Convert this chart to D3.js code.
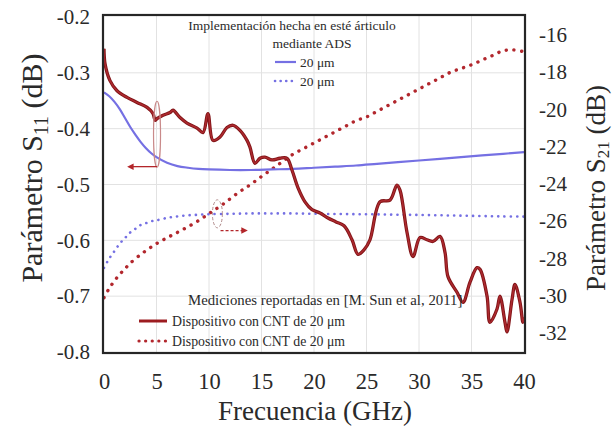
<!DOCTYPE html>
<html>
<head>
<meta charset="utf-8">
<script src="https://cdn.jsdelivr.net/npm/d3@7/dist/d3.min.js"></script>
<style>
  html, body { margin: 0; padding: 0; background: #fff; }
  svg { display: block; }
  text { font-family: "Liberation Serif", "DejaVu Serif", serif; fill: #2a2a2a; }
</style>
</head>
<body>
<svg id="chart" width="616" height="427"></svg>
<script>
// ---- data ----------------------------------------------------------------
// Frequency grid of the simulated (ADS) curves, GHz
const freqSim = [0, 0.5, 1, 1.5, 2, 2.5, 3, 3.5, 4, 4.5, 5, 6, 7, 8, 9, 10, 12, 14, 16, 18, 20, 22, 24, 26, 28, 30, 32, 34, 36, 38, 40];
// Simulated S11 (dB), left axis
const s11Sim = [-0.335, -0.342, -0.352, -0.365, -0.381, -0.397, -0.411, -0.424, -0.435, -0.444, -0.451, -0.461, -0.467, -0.470, -0.472, -0.473, -0.474, -0.474, -0.473, -0.472, -0.470, -0.468, -0.466, -0.463, -0.460, -0.457, -0.454, -0.451, -0.448, -0.445, -0.442];
// Simulated S21 (dB), right axis
const s21Sim = [-28.5, -28.0, -27.6, -27.2, -26.9, -26.6, -26.4, -26.2, -26.1, -26.0, -25.95, -25.82, -25.74, -25.68, -25.65, -25.62, -25.6, -25.58, -25.58, -25.58, -25.6, -25.61, -25.62, -25.63, -25.65, -25.66, -25.68, -25.7, -25.72, -25.74, -25.75];

// Measured S11 (dB), left axis
const freqS11Meas = [0, 0.1, 0.57, 1.24, 2.19, 3.14, 4.1, 4.67, 4.86, 5.05, 5.62, 6.29, 6.57, 7.24, 7.9, 8.86, 9.43, 9.9, 10.38, 11.05, 11.71, 12.29, 12.95, 13.62, 13.9, 14.38, 14.86, 15.33, 16.0, 16.76, 17.43, 17.9, 18.48, 19.14, 19.81, 20.57, 21.33, 22.1, 22.86, 23.62, 24.19, 24.76, 25.33, 26.29, 27.24, 27.9, 28.19, 28.86, 29.43, 30.1, 30.76, 31.33, 32.0, 32.48, 32.76, 33.62, 34.19, 34.86, 35.52, 35.81, 36.48, 36.76, 37.43, 37.71, 38.19, 38.38, 38.86, 39.14, 39.62, 39.9, 40];
const s11Meas = [-0.257, -0.284, -0.314, -0.332, -0.344, -0.353, -0.362, -0.373, -0.385, -0.382, -0.376, -0.371, -0.367, -0.38, -0.39, -0.399, -0.407, -0.373, -0.421, -0.415, -0.398, -0.394, -0.403, -0.421, -0.433, -0.462, -0.453, -0.451, -0.456, -0.453, -0.453, -0.474, -0.506, -0.531, -0.545, -0.551, -0.56, -0.567, -0.574, -0.599, -0.625, -0.617, -0.599, -0.531, -0.528, -0.501, -0.51, -0.586, -0.629, -0.595, -0.599, -0.602, -0.593, -0.622, -0.665, -0.693, -0.711, -0.675, -0.649, -0.652, -0.7, -0.747, -0.723, -0.7, -0.747, -0.764, -0.706, -0.679, -0.711, -0.747, -0.738];

// Measured S21 (dB), right axis
const freqS21Meas = [0, 0.5, 1, 1.5, 2, 2.5, 3.7, 5, 6.3, 7.5, 8.9, 10.1, 11.3, 12.7, 13.9, 15, 16, 17, 18, 19, 20, 21, 22, 23, 24, 25, 26, 27, 28, 29, 30, 31, 32, 33, 34, 35, 36, 37, 38, 39, 40];
const s21Meas = [-30.1, -29.6, -29.2, -28.85, -28.55, -28.25, -27.7, -27.2, -26.8, -26.45, -26.0, -25.55, -25.1, -24.5, -24.05, -23.6, -23.2, -22.8, -22.4, -22.1, -21.8, -21.5, -21.2, -20.9, -20.6, -20.4, -20.1, -19.8, -19.5, -19.2, -18.9, -18.6, -18.3, -18.0, -17.8, -17.6, -17.35, -17.1, -16.85, -16.8, -16.9];

// Axis ticks
const xTicks = [0, 5, 10, 15, 20, 25, 30, 35, 40];
const leftTicks = [-0.8, -0.7, -0.6, -0.5, -0.4, -0.3, -0.2];
const rightTicks = [-32, -30, -28, -26, -24, -22, -20, -18, -16];

// Legend texts
const legendSimTitle = ["Implementación hecha en esté árticulo", "mediante ADS"];
const legendSimLabels = ["20 \u03bcm", "20 \u03bcm"];
const legendMeasTitle = "Mediciones reportadas en [M. Sun et al, 2011]";
const legendMeasLabels = ["Dispositivo con CNT de 20 \u03bcm", "Dispositivo con CNT de 20 \u03bcm"];

// ---- layout --------------------------------------------------------------
const plot = { left: 103, right: 525, top: 15, bottom: 353 };
const colRed = "#9c1c20", colRedDark = "#811417", colBlue = "#7570e3";

const svg = d3.select("#chart");

const x = d3.scaleLinear().domain([0, 40]).range([104, 524]);
const yL = d3.scaleLinear().domain([-0.8, -0.2]).range([352, 17]);
const yR = d3.scaleLinear().domain([-32, -16]).range([333, 35]);

// grid
const grid = svg.append("g").attr("stroke", "#e2e2e2").attr("stroke-width", 1);
grid.selectAll("line.v").data(xTicks.slice(1, -1)).join("line")
  .attr("x1", d => x(d)).attr("x2", d => x(d))
  .attr("y1", plot.top).attr("y2", plot.bottom);
grid.selectAll("line.h").data(leftTicks.slice(1, -1)).join("line")
  .attr("x1", plot.left).attr("x2", plot.right)
  .attr("y1", d => yL(d)).attr("y2", d => yL(d));

// clip to plot box
svg.append("clipPath").attr("id", "clip").append("rect")
  .attr("x", plot.left).attr("y", plot.top)
  .attr("width", plot.right - plot.left).attr("height", plot.bottom - plot.top);
const g = svg.append("g").attr("clip-path", "url(#clip)");

const lineL = d3.line().x(d => x(d[0])).y(d => yL(d[1])).curve(d3.curveCatmullRom.alpha(0.5));
const lineR = d3.line().x(d => x(d[0])).y(d => yR(d[1])).curve(d3.curveCatmullRom.alpha(0.5));

// measured S21 (dotted red)
g.append("path").datum(d3.zip(freqS21Meas, s21Meas))
  .attr("d", lineR).attr("fill", "none")
  .attr("stroke", "#b2272d").attr("stroke-width", 3.4)
  .attr("stroke-linecap", "round").attr("stroke-dasharray", "0.1 7.6");

// simulated S21 (dotted blue)
g.append("path").datum(d3.zip(freqSim, s21Sim))
  .attr("d", lineR).attr("fill", "none")
  .attr("stroke", colBlue).attr("stroke-width", 2.6)
  .attr("stroke-linecap", "round").attr("stroke-dasharray", "0.1 6.2");

// simulated S11 (solid blue)
g.append("path").datum(d3.zip(freqSim, s11Sim))
  .attr("d", lineL).attr("fill", "none")
  .attr("stroke", colBlue).attr("stroke-width", 2.2);

// measured S11 (solid red, dark edge)
const measS11 = d3.zip(freqS11Meas, s11Meas);
g.append("path").datum(measS11).attr("d", lineL).attr("fill", "none")
  .attr("stroke", colRedDark).attr("stroke-width", 3.3).attr("stroke-linejoin", "round");
g.append("path").datum(measS11).attr("d", lineL).attr("fill", "none")
  .attr("stroke", "#ad2a2f").attr("stroke-width", 1.5).attr("stroke-linejoin", "round");

// annotations: axis pointers
const defs = svg.append("defs");
defs.append("marker").attr("id", "arrowL").attr("viewBox", "0 0 10 10")
  .attr("refX", 2).attr("refY", 5).attr("markerWidth", 5).attr("markerHeight", 5)
  .attr("orient", "auto-start-reverse")
  .append("path").attr("d", "M0,0 L10,5 L0,10 z").attr("fill", "#b3262a");

const ann = svg.append("g");
ann.append("ellipse")
  .attr("cx", x(5.05)).attr("cy", yL(-0.41)).attr("rx", 3.5).attr("ry", 33)
  .attr("fill", "none").attr("stroke", "#c98a8a").attr("stroke-width", 1.2);
ann.append("line")
  .attr("x1", x(5.05)).attr("x2", x(2.7)).attr("y1", yL(-0.468)).attr("y2", yL(-0.468))
  .attr("stroke", "#b3262a").attr("stroke-width", 1.3).attr("marker-end", "url(#arrowL)");

ann.append("ellipse")
  .attr("cx", x(10.8)).attr("cy", yR(-25.6)).attr("rx", 5).attr("ry", 14)
  .attr("fill", "none").attr("stroke", "#b08a8a").attr("stroke-width", 1)
  .attr("stroke-dasharray", "3 2");
ann.append("line")
  .attr("x1", x(11.1)).attr("x2", x(13.2)).attr("y1", yR(-26.5)).attr("y2", yR(-26.5))
  .attr("stroke", "#b3262a").attr("stroke-width", 1.3).attr("stroke-dasharray", "3 2")
  .attr("marker-end", "url(#arrowL)");

// frame
svg.append("rect").attr("x", plot.left).attr("y", plot.top)
  .attr("width", plot.right - plot.left).attr("height", plot.bottom - plot.top)
  .attr("fill", "none").attr("stroke", "#262626").attr("stroke-width", 2.2);

// axes (labels only, no tick marks)
const xAxis = svg.append("g").attr("transform", `translate(0,${plot.bottom})`)
  .call(d3.axisBottom(x).tickValues(xTicks).tickSize(0).tickPadding(20).tickFormat(d3.format("d")));
const yAxisL = svg.append("g").attr("transform", `translate(${plot.left},0)`)
  .call(d3.axisLeft(yL).tickValues(leftTicks).tickSize(0).tickPadding(13).tickFormat(d3.format(".1f")));
const yAxisR = svg.append("g").attr("transform", `translate(${plot.right},0)`)
  .call(d3.axisRight(yR).tickValues(rightTicks).tickSize(0).tickPadding(14).tickFormat(d3.format("d")));
[xAxis, yAxisL, yAxisR].forEach(a => {
  a.select(".domain").remove();
  a.selectAll("text").attr("font-family", "Liberation Serif, serif")
    .attr("font-size", 21).attr("fill", "#2a2a2a");
});
xAxis.selectAll("text").attr("font-size", 22.5);
yAxisL.selectAll("text").text(d => d3.format(".1f")(d).replace("\u2212", "-"));
yAxisR.selectAll("text").text(d => String(d));

// axis titles
svg.append("text").attr("x", 315).attr("y", 420).attr("text-anchor", "middle")
  .attr("font-size", 27).text("Frecuencia (GHz)");

const tL = svg.append("text").attr("transform", "translate(42,168) rotate(-90)")
  .attr("text-anchor", "middle").attr("font-size", 30);
tL.append("tspan").text("Parámetro S");
tL.append("tspan").attr("font-size", 20).attr("dy", 6).text("11");
tL.append("tspan").attr("dy", -6).text(" (dB)");

const tR = svg.append("text").attr("transform", "translate(605,188) rotate(-90)")
  .attr("text-anchor", "middle").attr("font-size", 27);
tR.append("tspan").text("Parámetro S");
tR.append("tspan").attr("font-size", 17).attr("dy", 4).text("21");
tR.append("tspan").attr("dy", -4).text(" (dB)");

// legend: simulation
const lg1 = svg.append("g").attr("font-size", 13.5);
lg1.selectAll("text.t").data(legendSimTitle).join("text")
  .attr("x", (d, i) => i === 0 ? 292 : 312).attr("y", (d, i) => 30 + i * 18)
  .attr("text-anchor", "middle").text(d => d);
lg1.selectAll("line.s").data(legendSimLabels).join("line")
  .attr("x1", 275).attr("x2", 296).attr("y1", (d, i) => 62 + i * 19).attr("y2", (d, i) => 62 + i * 19)
  .attr("stroke", colBlue).attr("stroke-width", (d, i) => i === 0 ? 2.2 : 2.6)
  .attr("stroke-linecap", (d, i) => i === 0 ? "butt" : "round")
  .attr("stroke-dasharray", (d, i) => i === 0 ? null : "0.1 5.5");
lg1.selectAll("text.l").data(legendSimLabels).join("text")
  .attr("x", 300).attr("y", (d, i) => 67 + i * 19).text(d => d);

// legend: measurements
const lg2 = svg.append("g").attr("font-size", 13.8);
lg2.append("text").attr("x", 188).attr("y", 305).attr("font-size", 14.8).text(legendMeasTitle);
lg2.selectAll("line.s").data(legendMeasLabels).join("line")
  .attr("x1", 139).attr("x2", 167).attr("y1", (d, i) => 321 + i * 20).attr("y2", (d, i) => 321 + i * 20)
  .attr("stroke", (d, i) => i === 0 ? colRed : "#b2272d")
  .attr("stroke-width", (d, i) => i === 0 ? 3 : 3.2)
  .attr("stroke-linecap", (d, i) => i === 0 ? "butt" : "round")
  .attr("stroke-dasharray", (d, i) => i === 0 ? null : "0.1 6.5");
lg2.selectAll("text.l").data(legendMeasLabels).join("text")
  .attr("x", 172).attr("y", (d, i) => 326 + i * 20).text(d => d);
</script>
</body>
</html>
